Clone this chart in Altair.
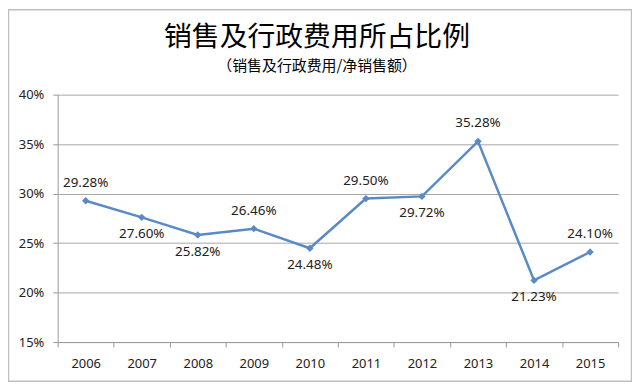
import altair as alt
import pandas as pd

years = ["2006", "2007", "2008", "2009", "2010", "2011", "2012", "2013", "2014", "2015"]
values = [0.2928, 0.2760, 0.2582, 0.2646, 0.2448, 0.2950, 0.2972, 0.3528, 0.2123, 0.2410]
label_side = ["above", "below", "below", "above", "below", "above", "below", "above", "below", "above"]

df = pd.DataFrame({"year": years, "value": values, "side": label_side})
df["label"] = [f"{v*100:.2f}%" for v in values]

LINE = "#5A8AC6"
FONT = "Noto Sans CJK SC"

x = alt.X("year:O", title=None,
          scale=alt.Scale(type="band", paddingInner=0, paddingOuter=0),
          axis=alt.Axis(labelAngle=0, tickBand="extent", labelFontSize=13,
                        labelColor="#222222", labelPadding=11, tickSize=5,
                        domainColor="#9A9A9A", tickColor="#9A9A9A", labelFont="Noto Sans"))
y = alt.Y("value:Q", title=None,
          scale=alt.Scale(domain=[0.15, 0.40], nice=False, zero=False),
          axis=alt.Axis(format=".0%", values=[0.15, 0.20, 0.25, 0.30, 0.35, 0.40],
                        grid=True, gridColor="#A6A6A6", labelFontSize=13,
                        labelColor="#222222", labelPadding=9, tickSize=5,
                        domainColor="#9A9A9A", tickColor="#9A9A9A", labelFont="Noto Sans"))

base = alt.Chart(df)

line = base.mark_line(color=LINE, strokeWidth=2.5).encode(x=x, y=y)
points = base.mark_point(shape="diamond", filled=True, color=LINE, size=55, opacity=1).encode(x=x, y=y)

above = base.transform_filter(alt.datum.side == "above").mark_text(
    dy=-18, fontSize=13.5, font="Noto Sans", color="#222222").encode(x=x, y=y, text="label:N")
below = base.transform_filter(alt.datum.side == "below").mark_text(
    dy=17, fontSize=13.5, font="Noto Sans", color="#222222").encode(x=x, y=y, text="label:N")

frame = alt.Chart(pd.DataFrame({"a": [0]})).mark_rect(
    fill="transparent", stroke="#BFBFBF", strokeWidth=1.5).encode(
    x=alt.value(-49.5), x2=alt.value(577.5), y=alt.value(-85.5), y2=alt.value(288.5))

chart = alt.layer(frame, line, points, above, below).properties(
    width=564, height=249,
    title=alt.TitleParams(
        text="销售及行政费用所占比例",
        subtitle="（销售及行政费用/净销售额）",
        font=FONT, fontSize=28, fontWeight="normal", color="#000000",
        subtitleFont=FONT, subtitleFontSize=15, subtitleColor="#000000",
        subtitlePadding=7, anchor="middle", dx=-21, dy=65, offset=0, frame="group"),
    autosize=alt.AutoSizeParams(type="none"),
    padding={"left": 50, "top": 86, "right": 14, "bottom": 40},
).configure_view(stroke=None)

chart.save("out.html", embed_options={"renderer": "svg", "actions": False})
